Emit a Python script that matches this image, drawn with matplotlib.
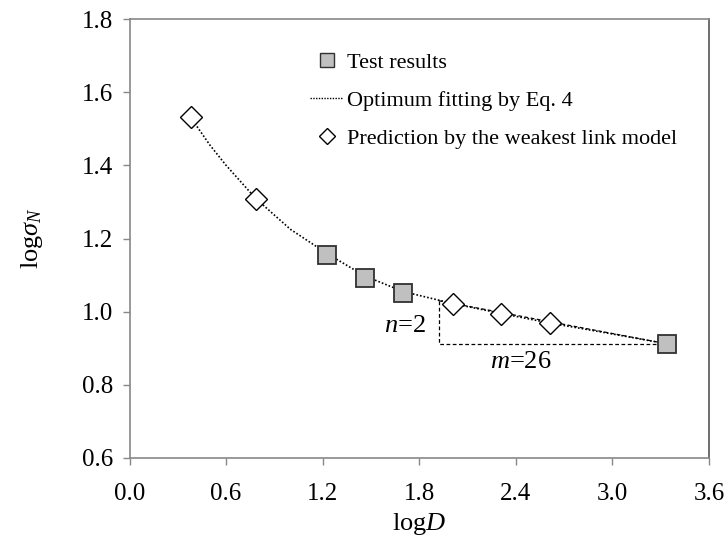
import matplotlib
matplotlib.use("Agg")
import matplotlib.pyplot as plt
from matplotlib.lines import Line2D

plt.rcParams['font.family'] = ['Liberation Serif', 'DejaVu Serif']
plt.rcParams['mathtext.fontset'] = 'custom'
plt.rcParams['mathtext.rm'] = 'Liberation Serif'
plt.rcParams['mathtext.it'] = 'Liberation Serif:italic'

# Data
test_logD = [1.23, 1.46, 1.70, 3.34]
test_logS = [1.155, 1.092, 1.052, 0.912]

pred_logD = [0.38, 0.785, 2.01, 2.31, 2.61]
pred_logS = [1.531, 1.309, 1.020, 0.993, 0.969]

fit_logD = [0.38, 0.50, 0.60, 0.785, 1.00, 1.23, 1.46, 1.70, 2.01, 2.31, 2.61, 2.95, 3.34]
fit_logS = [1.531, 1.455, 1.400, 1.309, 1.225, 1.158, 1.098, 1.055, 1.022, 0.995, 0.969, 0.943, 0.912]

# slope triangle
tri_x = [1.92, 1.92, 3.34]
tri_y = [1.030, 0.912, 0.912]
hyp_x = [1.92, 3.34]
hyp_y = [1.030, 0.912]

xticks = [0.0, 0.6, 1.2, 1.8, 2.4, 3.0, 3.6]
yticks = [0.6, 0.8, 1.0, 1.2, 1.4, 1.6, 1.8]

fig = plt.figure(figsize=(7.28, 5.44), dpi=100)
ax = fig.add_axes([129.5/728, 1 - 458/544, (709 - 129.5)/728, (458 - 19)/544])

ax.plot(fit_logD, fit_logS, linestyle=(0, (1, 1.2)), color='black', lw=1.2, zorder=2)
ax.plot(hyp_x, hyp_y, linestyle=(0, (3, 2)), color='black', lw=0.9, zorder=2)
ax.plot(tri_x, tri_y, linestyle=(0, (3, 2)), color='black', lw=0.9, zorder=2)

ax.plot(test_logD, test_logS, linestyle='none', marker='s', markersize=12.5,
        markerfacecolor='#c0c0c0', markeredgecolor='#303030', markeredgewidth=1.3, zorder=3)
ax.plot(pred_logD, pred_logS, linestyle='none', marker='D', markersize=11.5,
        markerfacecolor='white', markeredgecolor='black', markeredgewidth=1.0, zorder=3)

ax.text(1.84, 0.962, r'$n$=2', fontsize=19, ha='right', va='center')
ax.text(2.43, 0.862, r'$m$=26', fontsize=19, ha='center', va='center')

ax.set_xlim(0.0, 3.6)
ax.set_ylim(0.6, 1.8)
ax.set_xticks(xticks)
ax.set_yticks(yticks)
ax.set_xticklabels([f'{t:.1f}' for t in xticks])
ax.set_yticklabels([f'{t:.1f}' for t in yticks])
ax.tick_params(axis='both', direction='out', length=5, width=1, color='#888888',
               labelsize=18)
ax.tick_params(axis='x', pad=13)
ax.tick_params(axis='y', pad=7)
for s in ax.spines.values():
    s.set_color('#888888')
    s.set_linewidth(1.2)
ax.spines['right'].set_color('#555555')

ax.set_xlabel(r'log$D$', fontsize=19, labelpad=4)
ax.set_ylabel(r'log$\sigma_N$', fontsize=19, labelpad=26)

handles = [
    Line2D([], [], linestyle='none', marker='s', markersize=10,
           markerfacecolor='#c0c0c0', markeredgecolor='#303030', markeredgewidth=1.0),
    Line2D([], [], linestyle=(0, (1, 1)), color='black', lw=1.0),
    Line2D([], [], linestyle='none', marker='D', markersize=8,
           markerfacecolor='white', markeredgecolor='black', markeredgewidth=1.0),
]
labels = ['Test results', 'Optimum fitting by Eq. 4', 'Prediction by the weakest link model']
leg = ax.legend(handles, labels, loc='upper left', bbox_to_anchor=(0.277, 0.97),
                frameon=False, fontsize=16, handlelength=1.5, handletextpad=0.15,
                labelspacing=0.78)

fig.savefig('out.png', dpi=100)
